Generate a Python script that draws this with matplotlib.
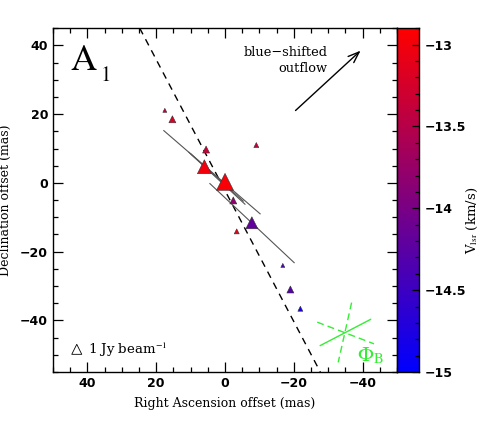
import matplotlib
matplotlib.use("Agg")
import matplotlib.pyplot as plt
import numpy as np
from matplotlib.colors import LinearSegmentedColormap, Normalize
from matplotlib.ticker import MultipleLocator

# maser spots: RA offset, Dec offset (mas), flux (Jy/beam), Vlsr (km/s)
spot_ra = [17.5, 15.3, 5.5, 6.0, 0.0, -2.4, -7.8, -9.1, -3.4, -16.8, -19.0, -21.9]
spot_dec = [21.1, 18.5, 9.7, 4.7, 0.3, -5.1, -11.6, 11.0, -14.1, -24.0, -31.0, -36.6]
spot_flux = [0.4, 0.7, 0.7, 1.4, 1.7, 0.7, 1.2, 0.5, 0.5, 0.4, 0.7, 0.5]
spot_vlsr = [-13.4, -13.2, -13.35, -13.0, -12.95, -13.8, -14.2, -13.4, -13.1, -14.4, -14.3, -14.8]

# polarization vectors (start ra, start dec, end ra, end dec)
vec_ra0 = [17.8, 10.5, 9.9, 4.4]
vec_dec0 = [15.2, 8.9, 8.4, -0.2]
vec_ra1 = [-10.2, -5.8, -5.3, -20.1]
vec_dec1 = [-9.0, -6.2, -5.3, -23.2]

# dashed fit line
fit_ra = [24.8, -27.7]
fit_dec = [45.0, -55.0]

# outflow arrow
arrow_tail = (-19.9, 20.5)
arrow_head = (-40.0, 39.0)

# magnetic field / Phi_B symbol
phib_solid_ra = [-27.7, -42.3]
phib_solid_dec = [-47.3, -39.7]
phib_dash1_ra = [-36.8, -32.9]
phib_dash1_dec = [-34.8, -52.2]
phib_dash2_ra = [-26.8, -43.3]
phib_dash2_dec = [-40.5, -46.8]

vmin, vmax = -15.0, -12.9
cbar_ticks = [-13, -13.5, -14, -14.5, -15]

plt.rcParams['mathtext.fontset'] = 'stix'

cmap = LinearSegmentedColormap.from_list('br', ['#0000ff', '#ff0000'])
norm = Normalize(vmin=vmin, vmax=vmax)

fig = plt.figure(figsize=(4.91, 4.24), dpi=100)
ax = fig.add_axes([0.108, 0.1226, 0.7006, 0.811])
cax = fig.add_axes([0.8086, 0.1226, 0.0448, 0.811])

ax.set_xlim(50, -50)
ax.set_ylim(-55, 45)

# dashed line
ax.plot(fit_ra, fit_dec, color='black', lw=1.0, ls=(0, (5, 4)), zorder=2)

# polarization vectors
for i in range(len(vec_ra0)):
    ax.plot([vec_ra0[i], vec_ra1[i]], [vec_dec0[i], vec_dec1[i]],
            color='#555555', lw=0.8, zorder=3)

# maser spots
px2pt = 72.0 / 100.0
sizes = [(10 * f * px2pt) ** 2 for f in spot_flux]
ax.scatter(spot_ra, spot_dec, s=sizes, c=spot_vlsr, cmap=cmap, norm=norm,
           marker='^', edgecolors='#333333', linewidths=0.4, zorder=4)

# outflow arrow
ax.annotate('', xy=arrow_head, xytext=arrow_tail,
            arrowprops=dict(arrowstyle='->,head_length=0.8,head_width=0.3',
                            color='black', lw=1.0))
ax.text(-29.8, 35.5, 'blue\u2212shifted\noutflow', ha='right', va='center',
        multialignment='right', family='DejaVu Serif', fontsize=9.3,
        linespacing=1.3)

# A1 label
ax.text(44.9, 32.8, 'A', family='STIXGeneral', fontsize=26, ha='left', va='baseline')
ax.text(36.3, 29.7, '1', family='STIXGeneral', fontsize=15, ha='left', va='baseline')

# flux scale
ax.scatter([43.1], [-48.4], s=(10 * px2pt) ** 2, marker='^', facecolors='none',
           edgecolors='black', linewidths=0.6)
ax.text(39.7, -48.6, r'1 Jy beam$^{-1}$', family='DejaVu Serif', fontsize=9.6,
        ha='left', va='center')

# Phi_B symbol
green = '#33ee33'
ax.plot(phib_solid_ra, phib_solid_dec, color=green, lw=1.0)
ax.plot(phib_dash1_ra, phib_dash1_dec, color=green, lw=1.0, ls=(0, (5, 3)))
ax.plot(phib_dash2_ra, phib_dash2_dec, color=green, lw=1.0, ls=(0, (5, 3)))
ax.text(-38.3, -52.0, r'$\Phi_{\mathrm{B}}$', color=green, fontsize=15,
        ha='left', va='baseline')

# axes styling
ax.xaxis.set_major_locator(MultipleLocator(20))
ax.xaxis.set_minor_locator(MultipleLocator(5))
ax.yaxis.set_major_locator(MultipleLocator(20))
ax.yaxis.set_minor_locator(MultipleLocator(5))
ax.tick_params(which='both', direction='in', top=True, right=True, width=0.9)
ax.tick_params(which='major', length=7)
ax.tick_params(which='minor', length=3.5)
for lab in ax.get_xticklabels() + ax.get_yticklabels():
    lab.set_family('DejaVu Sans')
    lab.set_fontsize(9)
    lab.set_fontweight('bold')
for sp in ax.spines.values():
    sp.set_linewidth(1.0)
ax.set_xlabel('Right Ascension offset (mas)', family='DejaVu Serif', fontsize=9)
ax.set_ylabel('Declination offset (mas)', family='DejaVu Serif', fontsize=9)
ax.xaxis.set_label_coords(0.5, -0.072)
ax.yaxis.set_label_coords(-0.118, 0.5)

# colorbar
grad = np.linspace(vmin, vmax, 256).reshape(-1, 1)
cax.imshow(grad, aspect='auto', cmap=cmap, norm=norm, origin='lower',
           extent=[0, 1, vmin, vmax])
cax.set_xlim(0, 1)
cax.set_ylim(vmin, vmax)
cax.set_xticks([])
cax.yaxis.tick_right()
cax.yaxis.set_label_position('right')
cax.set_yticks(cbar_ticks)
cax.set_yticklabels(['\u221213', '\u221213.5', '\u221214', '\u221214.5', '\u221215'])
cax.yaxis.set_minor_locator(MultipleLocator(0.1))
cax.tick_params(which='both', direction='in', width=0.9)
cax.tick_params(which='major', length=5, pad=4)
cax.tick_params(which='minor', length=3)
for lab in cax.get_yticklabels():
    lab.set_family('DejaVu Sans')
    lab.set_fontsize(9)
    lab.set_fontweight('bold')
for sp in cax.spines.values():
    sp.set_linewidth(1.0)
cax.set_ylabel(r'V$_{\mathrm{lsr}}$ (km/s)', family='DejaVu Serif', fontsize=9.5)
cax.yaxis.set_label_coords(3.1, 0.44)

plt.savefig('out.png', dpi=100)
